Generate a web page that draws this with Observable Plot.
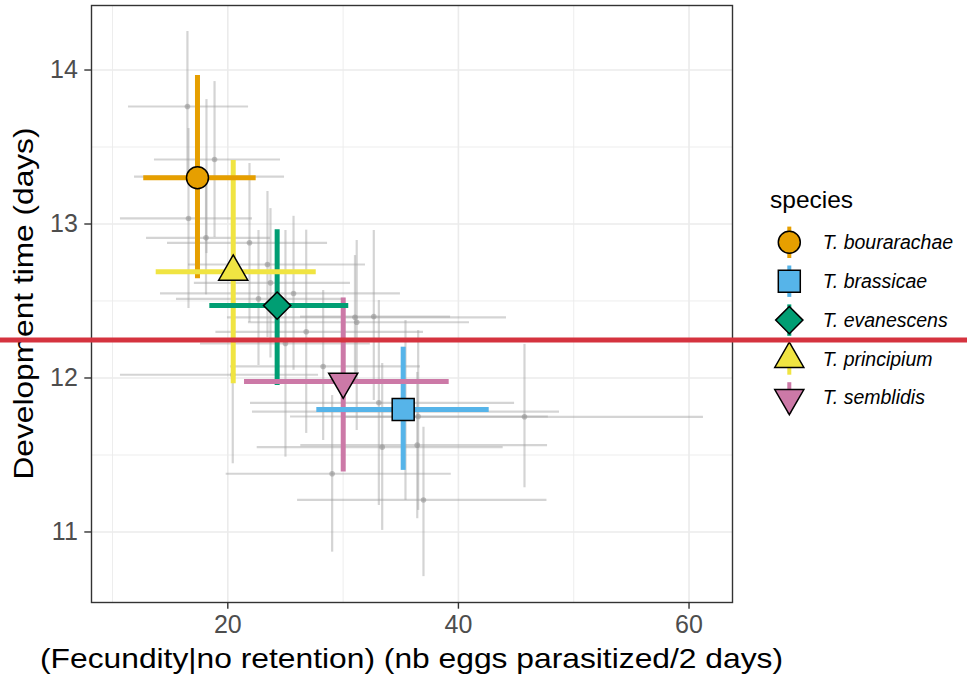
<!DOCTYPE html>
<html>
<head>
<meta charset="utf-8">
<script src="https://cdn.jsdelivr.net/npm/d3@7"></script>
<script src="https://cdn.jsdelivr.net/npm/@observablehq/plot@0.6"></script>
<style>
  html, body { margin: 0; padding: 0; background: #fff; overflow: hidden; }
  svg { display: block; }
</style>
</head>
<body>
<div id="chart"></div>
<script>
// ---------- data ----------
const species = ["T. bourarachae", "T. brassicae", "T. evanescens", "T. principium", "T. semblidis"];
const speciesFecundity = [17.37, 35.21, 24.28, 20.47, 30.01];
const speciesFecLow    = [12.71, 27.72, 18.44, 13.79, 21.45];
const speciesFecHigh   = [22.46, 42.67, 30.49, 27.67, 39.20];
const speciesDev       = [13.30, 11.795, 12.47, 12.69, 11.977];
const speciesDevLow    = [12.644, 11.40, 11.951, 11.962, 11.39];
const speciesDevHigh   = [13.964, 12.20, 12.962, 13.412, 12.52];
const speciesColors    = ["#E69F00", "#56B4E9", "#009E73", "#F0E442", "#CC79A7"];
const speciesSymbols   = ["circle", "square", "diamond", "triangle", "triangle-down"];

const bgFecundity = [16.50, 18.85, 16.59, 18.15, 18.11, 21.88, 23.44, 23.70, 25.70, 22.66, 26.80, 25.00, 28.27, 31.03, 31.18, 32.66, 20.43, 33.10, 36.51, 33.39, 36.43, 29.05, 36.97, 45.73, 35.41];
const bgFecLow    = [11.39, 13.64, 10.69, 11.91, 12.95, 14.77, 16.59, 17.10, 14.16, 15.55, 18.97, 17.63, 20.23, 19.97, 21.79, 26.31, 10.69, 21.97, 25.44, 22.55, 26.33, 19.86, 26.05, 30.21, 22.14];
const bgFecHigh   = [21.80, 24.57, 22.14, 24.92, 23.70, 28.65, 31.94, 30.64, 34.97, 30.21, 36.97, 32.36, 36.70, 44.17, 40.96, 39.32, 27.87, 44.87, 47.80, 43.88, 47.73, 39.38, 47.68, 61.25, 48.77];
const bgDev       = [13.763, 13.419, 13.036, 13.308, 12.91, 12.878, 12.737, 12.618, 12.549, 12.514, 12.30, 12.224, 12.075, 12.394, 12.362, 12.399, 12.021, 11.839, 11.75, 11.551, 11.564, 11.378, 11.208, 11.748, 11.782];
const bgDevLow    = [13.276, 12.912, 12.451, 12.808, 12.54, 12.36, 12.263, 12.13, 12.05, 12.081, 11.64, 11.486, 11.594, 11.98, 11.659, 11.854, 11.443, 11.172, 11.14, 11.01, 11.086, 10.869, 10.71, 11.287, 11.205];
const bgDevHigh   = [14.25, 13.925, 13.62, 13.808, 13.28, 13.393, 13.211, 13.10, 13.05, 12.958, 12.96, 12.958, 12.568, 12.795, 12.893, 12.958, 12.60, 12.503, 12.308, 12.094, 12.036, 11.886, 11.68, 12.218, 12.373];

const xTicks = [20, 40, 60];
const xMinorTicks = [10, 30, 50];
const yTicks = [11, 12, 13, 14];
const yMinorTicks = [11.5, 12.5, 13.5];
const redLineDev = 12.243;

const xTitle = "(Fecundity|no retention) (nb eggs parasitized/2 days)";
const yTitle = "Development time (days)";
const legendTitle = "species";

// ---------- styles ----------
const W = 967, H = 678;
const mL = 91, mR = 235, mT = 5, mB = 76;
const FONT = "'Liberation Sans', Arial, Helvetica, sans-serif";

const triangleDown = {
  draw(context, size) {
    const y = Math.sqrt(size / (Math.sqrt(3) * 3));
    context.moveTo(0, 2 * y);
    context.lineTo(-Math.sqrt(3) * y, -y);
    context.lineTo(Math.sqrt(3) * y, -y);
    context.closePath();
  }
};
const symbolTypes = {
  "circle": d3.symbolCircle,
  "square": d3.symbolSquare,
  "diamond": d3.symbolDiamond2,
  "triangle": d3.symbolTriangle,
  "triangle-down": triangleDown
};
const symbolR = { "circle": 11, "square": 12.4, "diamond": 12.3, "triangle": 10.8, "triangle-down": 10.8 };

// ---------- tables ----------
const bg = bgFecundity.map((x, i) => ({
  x, xlo: bgFecLow[i], xhi: bgFecHigh[i], y: bgDev[i], ylo: bgDevLow[i], yhi: bgDevHigh[i]
}));
const sp = species.map((s, i) => ({
  s, x: speciesFecundity[i], xlo: speciesFecLow[i], xhi: speciesFecHigh[i],
  y: speciesDev[i], ylo: speciesDevLow[i], yhi: speciesDevHigh[i],
  color: speciesColors[i], sym: speciesSymbols[i]
}));

const xDomain = [8.179, 63.77];
const yDomain = [10.542, 14.419];

const titlesMark = (index, scales, values, dims) => {
  const g = d3.create("svg:g").attr("font-family", FONT).attr("fill", "#000");
  const cx = (dims.marginLeft + dims.width - dims.marginRight) / 2;
  g.append("text")
    .attr("x", cx).attr("y", 668.3)
    .attr("text-anchor", "middle")
    .attr("font-size", 28)
    .attr("textLength", 743).attr("lengthAdjust", "spacingAndGlyphs")
    .text(xTitle);
  const cy = (dims.marginTop + dims.height - dims.marginBottom) / 2;
  g.append("text")
    .attr("transform", `translate(32.7,${cy}) rotate(-90)`)
    .attr("text-anchor", "middle")
    .attr("font-size", 28)
    .attr("textLength", 352).attr("lengthAdjust", "spacingAndGlyphs")
    .text(yTitle);
  return g.node();
};

const legendMark = (index, scales, values, dims) => {
  const g = d3.create("svg:g").attr("font-family", FONT).attr("text-anchor", "start");
  g.append("text").attr("x", 770).attr("y", 208).attr("font-size", 24.5)
    .attr("text-anchor", "start").attr("fill", "#000").text(legendTitle);
  const row0 = 242.3, step = 38.9, kx = 789.3;
  sp.forEach((d, i) => {
    const ry = row0 + i * step;
    g.append("line").attr("x1", kx).attr("x2", kx).attr("y1", ry - 15.7).attr("y2", ry + 15.7)
      .attr("stroke", d.color).attr("stroke-width", 4);
    const r = symbolR[d.sym];
    g.append("path")
      .attr("d", d3.symbol(symbolTypes[d.sym], Math.PI * r * r)())
      .attr("transform", `translate(${kx},${ry})`)
      .attr("fill", d.color).attr("stroke", "#000").attr("stroke-width", 1.5);
    g.append("text").attr("x", 822.7).attr("y", ry + 6.5)
      .attr("text-anchor", "start")
      .attr("font-size", 19.5).attr("font-style", "italic").attr("fill", "#000")
      .text(d.s);
  });
  return g.node();
};

const redLineMark = (index, scales, values, dims) => {
  const yy = scales.y(redLineDev);
  const g = d3.create("svg:g");
  g.append("line").attr("x1", 0).attr("x2", dims.width).attr("y1", yy).attr("y2", yy)
    .attr("stroke", "#d5333f").attr("stroke-width", 5);
  return g.node();
};

const gridStyle = { stroke: "#ebebeb", strokeOpacity: 1 };

const chart = Plot.plot({
  width: W, height: H,
  marginLeft: mL, marginRight: mR, marginTop: mT, marginBottom: mB,
  style: { fontFamily: FONT, background: "#fff", overflow: "visible" },
  x: { domain: xDomain },
  y: { domain: yDomain },
  color: { type: "identity" },
  marks: [
    Plot.gridX(xMinorTicks, { ...gridStyle, strokeWidth: 0.9 }),
    Plot.gridY(yMinorTicks, { ...gridStyle, strokeWidth: 0.9 }),
    Plot.gridX(xTicks, { ...gridStyle, strokeWidth: 1.6 }),
    Plot.gridY(yTicks, { ...gridStyle, strokeWidth: 1.6 }),
    Plot.ruleX(bg, { x: "x", y1: "ylo", y2: "yhi", stroke: "#a0a0a0", strokeOpacity: 0.45, strokeWidth: 2.2 }),
    Plot.ruleY(bg, { y: "y", x1: "xlo", x2: "xhi", stroke: "#a0a0a0", strokeOpacity: 0.45, strokeWidth: 2.2 }),
    Plot.dot(bg, { x: "x", y: "y", r: 2.8, fill: "#8f8f8f", fillOpacity: 0.55 }),
    Plot.ruleX(sp, { x: "x", y1: "ylo", y2: "yhi", stroke: "color", strokeWidth: 5 }),
    Plot.ruleY(sp, { y: "y", x1: "xlo", x2: "xhi", stroke: "color", strokeWidth: 5 }),
    ...sp.map(d => Plot.dot([d], {
      x: "x", y: "y", r: symbolR[d.sym], symbol: symbolTypes[d.sym],
      fill: d.color, stroke: "#000", strokeWidth: 1.5
    })),
    Plot.frame({ stroke: "#333", strokeWidth: 1.4 }),
    Plot.axisX({ ticks: xTicks, tickFormat: d3.format("d"), tickSize: 6.7, tickPadding: 6.3, fontSize: 25, stroke: "#333", strokeWidth: 1.4, fill: "#4d4d4d", label: null }),
    Plot.axisY({ ticks: yTicks, tickFormat: d3.format("d"), tickSize: 6.7, tickPadding: 7, fontSize: 25, stroke: "#333", strokeWidth: 1.4, fill: "#4d4d4d", label: null }),
    titlesMark,
    legendMark,
    redLineMark
  ]
});

document.getElementById("chart").appendChild(chart);
</script>
</body>
</html>
